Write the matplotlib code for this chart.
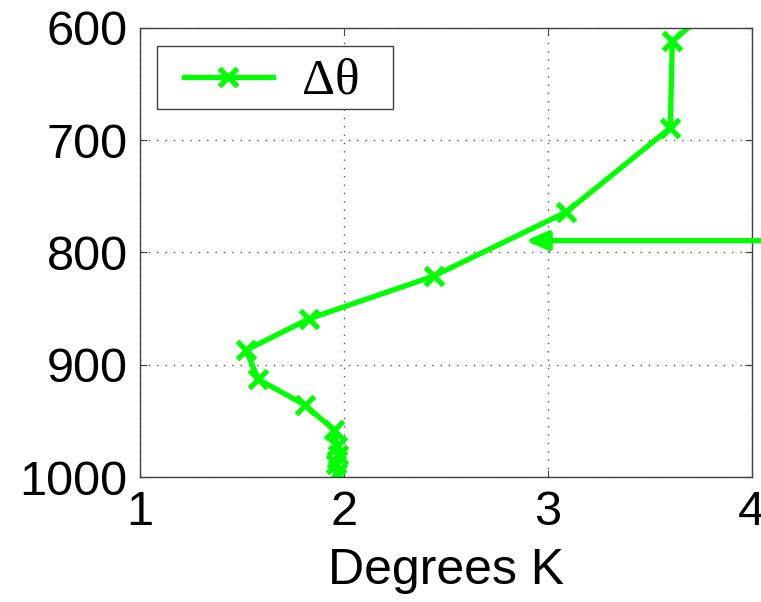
import matplotlib
matplotlib.use("Agg")
from matplotlib import pyplot as plt
from matplotlib.patches import Rectangle
from matplotlib.lines import Line2D

# potential temperature difference profile (K) against pressure level (hPa)
dtheta = [3.75, 3.61, 3.60, 3.09, 2.44, 1.83, 1.52, 1.58, 1.81, 1.95, 1.965, 1.97, 1.96, 1.965]
pres = [590, 612, 689, 764, 821, 859, 887, 913, 936, 958, 972, 980, 988, 996]

xticks = [1, 2, 3, 4]
yticks = [600, 700, 800, 900, 1000]

# level marked by the arrow
arrow_level = 789.5
arrow_tip = 2.89
arrow_tail = 4.05

green = '#00ff00'
edge = '#404040'

fig = plt.figure(figsize=(7.61, 6.02), dpi=100)
ax = fig.add_axes([0.184, 0.2076, 0.804, 0.746])

ax.plot(dtheta, pres, color=green, lw=3.8, marker='x', ms=12.5, mew=3.8)

ax.set_xlim(1, 4)
ax.set_ylim(1000, 600)
ax.set_xticks(xticks)
ax.set_yticks(yticks)
ax.set_xticklabels([str(t) for t in xticks], fontfamily='Liberation Sans', fontsize=35)
ax.set_yticklabels([str(t) for t in yticks], fontfamily='Liberation Sans', fontsize=35)
ax.tick_params(direction='in', length=5, width=0.8, color=edge, top=True, right=True)
ax.tick_params(axis='x', pad=9)
ax.tick_params(axis='y', pad=9)
ax.set_xlabel('Degrees K', fontfamily='Liberation Sans', fontsize=36, labelpad=10)

ax.grid(True, color='#555555', linestyle=(0, (1, 5)), lw=1.0)
for s in ax.spines.values():
    s.set_color(edge)
    s.set_linewidth(1.0)

ax.annotate('', xy=(arrow_tip, arrow_level), xytext=(arrow_tail, arrow_level),
            arrowprops=dict(arrowstyle='-|>,head_length=0.65,head_width=0.28',
                            mutation_scale=20, color=green, lw=3.8,
                            shrinkA=0, shrinkB=0),
            annotation_clip=False)

# legend box, drawn by hand in axes fraction
ax.add_patch(Rectangle((0.0273, 0.8189), 0.3864, 0.1417, transform=ax.transAxes,
                       facecolor='white', edgecolor=edge, lw=1.0, zorder=5))
ax.add_line(Line2D([0.0719, 0.2173], [0.8904, 0.8904], transform=ax.transAxes,
                   color=green, lw=3.8, zorder=6))
ax.add_line(Line2D([0.1446], [0.8904], transform=ax.transAxes, color=green,
                   marker='x', ms=12.5, mew=3.8, zorder=6))
ax.text(0.2642, 0.853, '\u0394\u03b8', transform=ax.transAxes, ha='left', va='baseline',
        fontfamily='Liberation Serif', fontsize=37, zorder=7)

fig.savefig('out.png', dpi=100)
